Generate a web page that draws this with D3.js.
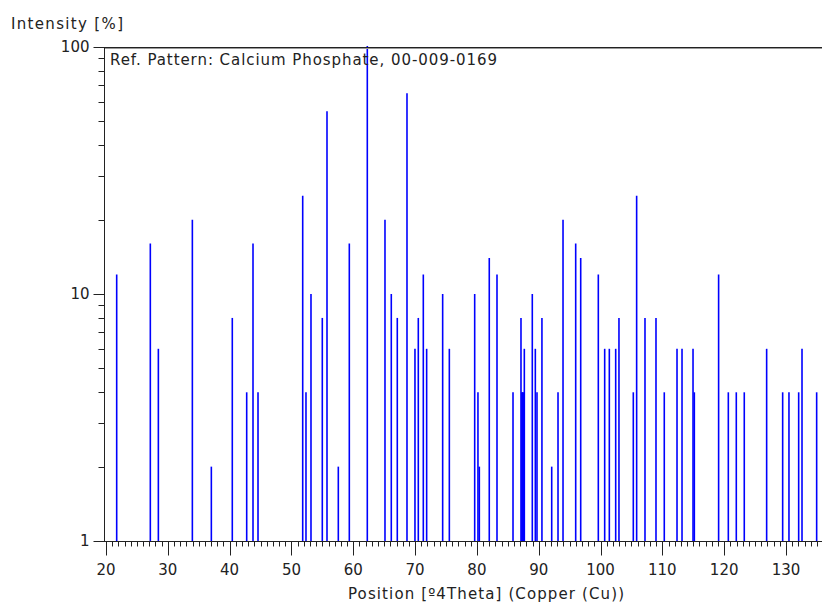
<!DOCTYPE html>
<html>
<head>
<meta charset="utf-8">
<script src="https://cdn.jsdelivr.net/npm/d3@7"></script>
<style>
  html, body { margin: 0; padding: 0; background: #fff; }
  svg { display: block; }
  text { font-family: "DejaVu Sans", Verdana, sans-serif; fill: #222; }
</style>
</head>
<body>
<svg id="chart" width="822" height="606"></svg>
<script>
// Reference pattern peak positions (°2θ) and relative intensities (%)
const positions = [
  21.73, 27.17, 28.47, 33.97, 37.04, 40.43, 42.76, 43.78, 44.59,
  51.82, 52.35, 53.16, 54.99, 55.75, 57.58, 59.36, 62.27, 65.13,
  66.15, 67.12, 68.69, 69.98, 70.52, 71.33, 71.87, 74.46, 75.54,
  79.64, 80.17, 80.39, 82.00, 83.25, 85.84, 87.13, 87.28, 87.39,
  87.50, 87.67, 88.96, 89.45, 89.72, 90.52, 92.10, 93.12, 93.93,
  95.98, 96.79, 99.64, 100.67, 101.42, 102.45, 102.98, 105.30, 105.84,
  107.19, 108.97, 110.31, 112.37, 113.18, 114.96, 115.17, 119.10, 120.67,
  121.96, 123.25, 126.87, 129.46, 130.48, 132.05, 132.59, 134.96
];
const intensities = [
  12, 16, 6, 20, 2, 8, 4, 16, 4,
  25, 4, 10, 8, 55, 2, 16, 100, 20,
  10, 8, 65, 6, 8, 12, 6, 10, 6,
  10, 4, 2, 14, 12, 4, 8, 4, 4,
  4, 6, 10, 6, 4, 8, 2, 4, 20,
  16, 14, 12, 6, 6, 6, 8, 4, 25,
  8, 8, 4, 6, 6, 6, 4, 12, 4,
  4, 4, 6, 4, 4, 4, 6, 4
];
const xTickValues = [20, 30, 40, 50, 60, 70, 80, 90, 100, 110, 120, 130];
const yTickValues = [1, 10, 100];

const title = "Ref. Pattern: Calcium Phosphate, 00-009-0169";
const xTitle = "Position [\u00BA4Theta] (Copper (Cu))";
const yTitle = "Intensity [%]";

const svg = d3.select("#chart");
const plotLeft = 106, plotRight = 822, plotTop = 47, plotBottom = 541;

const x = d3.scaleLinear().domain([20, 20 + (plotRight - plotLeft) / 6.1818]).range([plotLeft, plotRight]);
const y = d3.scaleLog().domain([1, 100]).range([plotBottom, plotTop]);

// Peak sticks
const peaks = positions.map((p, i) => ({ p, v: intensities[i] }));
svg.append("g").selectAll("line").data(peaks).join("line")
  .attr("x1", d => x(d.p)).attr("x2", d => x(d.p))
  .attr("y1", y(1)).attr("y2", d => y(d.v) - (d.v >= 100 ? 1 : 0))
  .attr("stroke", "#0000ff").attr("stroke-width", 1.6);

// Top frame line (double tone)
svg.append("line").attr("x1", 104).attr("x2", plotRight).attr("y1", plotTop + 0.5).attr("y2", plotTop + 0.5)
  .attr("stroke", "#222").attr("stroke-width", 1);
svg.append("line").attr("x1", 104).attr("x2", plotRight).attr("y1", plotTop + 1.5).attr("y2", plotTop + 1.5)
  .attr("stroke", "#999").attr("stroke-width", 1);

// X axis: minor ticks every 1°, major every 10°
const xAxis = svg.append("g").attr("transform", `translate(0,${plotBottom + 0.5})`);
xAxis.append("line").attr("x1", 103).attr("x2", plotRight).attr("stroke", "#222");
xAxis.selectAll("line.minor").data(d3.range(20, 136)).join("line").attr("class", "minor")
  .attr("x1", d => Math.round(x(d)) + 0.5).attr("x2", d => Math.round(x(d)) + 0.5)
  .attr("y1", 0).attr("y2", 5).attr("stroke", "#222");
xAxis.selectAll("line.major").data(xTickValues).join("line").attr("class", "major")
  .attr("x1", d => Math.round(x(d)) + 0.5).attr("x2", d => Math.round(x(d)) + 0.5)
  .attr("y1", 0).attr("y2", 14).attr("stroke", "#222");
xAxis.selectAll("text").data(xTickValues).join("text")
  .attr("x", d => x(d)).attr("y", 33)
  .attr("text-anchor", "middle").attr("font-size", 15)
  .text(d => d);

// Y axis (log): minor ticks at 2..9 of each decade
const yMinor = [];
[1, 10].forEach(dec => { for (let k = 2; k <= 9; k++) yMinor.push(dec * k); });
const yAxis = svg.append("g").attr("transform", `translate(104.5,0)`);
yAxis.append("line").attr("y1", plotTop).attr("y2", plotBottom + 1).attr("stroke", "#222");
yAxis.selectAll("line.minor").data(yMinor).join("line").attr("class", "minor")
  .attr("y1", d => Math.round(y(d)) + 0.5).attr("y2", d => Math.round(y(d)) + 0.5)
  .attr("x1", -6).attr("x2", 0).attr("stroke", "#222");
yAxis.selectAll("line.major").data(yTickValues).join("line").attr("class", "major")
  .attr("y1", d => Math.round(y(d)) + 0.5).attr("y2", d => Math.round(y(d)) + 0.5)
  .attr("x1", -11).attr("x2", 0).attr("stroke", "#222");
yAxis.selectAll("text").data(yTickValues).join("text")
  .attr("x", -15).attr("y", d => y(d) + 5)
  .attr("text-anchor", "end").attr("font-size", 15)
  .text(d => d);

// Titles
svg.append("text").attr("x", 11).attr("y", 29).attr("font-size", 15)
  .attr("textLength", 112).attr("lengthAdjust", "spacing").text(yTitle);
svg.append("text").attr("x", 348).attr("y", 599)
  .attr("font-size", 15).attr("textLength", 276).attr("lengthAdjust", "spacing").text(xTitle);
svg.append("text").attr("x", 110).attr("y", 65).attr("font-size", 15)
  .attr("textLength", 387).attr("lengthAdjust", "spacing").text(title);
</script>
</body>
</html>
